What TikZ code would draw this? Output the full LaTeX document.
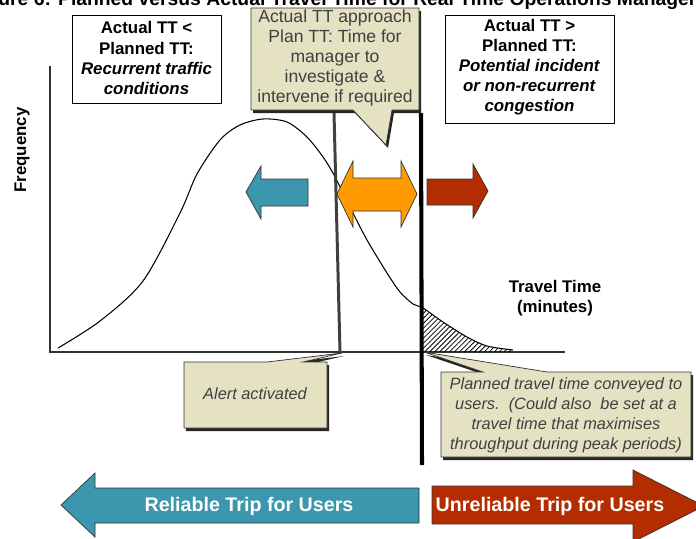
\documentclass[tikz,border=0pt]{standalone}
\usepackage{fontspec}
\setmainfont{Liberation Sans}
\usepackage{tikz}
\usetikzlibrary{shadows}
\usetikzlibrary{patterns.meta}
\usetikzlibrary{calc}

\definecolor{callbg}{HTML}{E4E2C2}
\definecolor{tealbl}{HTML}{3C96AE}
\definecolor{rustred}{HTML}{B42D00}
\definecolor{ambor}{HTML}{FF9A00}

\tikzset{
  box/.style={draw=black, fill=white, line width=0.5pt},
  callout/.style={draw=black!80, fill=callbg, line width=0.4pt,
    drop shadow={shadow xshift=0.04cm, shadow yshift=-0.06cm, opacity=1, fill=black!85}},
  boxtext/.style={align=center, inner sep=0pt, font=\fontsize{9.6}{11.4}\selectfont\bfseries},
  calltext/.style={align=center, inner sep=0pt, text=black!75, font=\fontsize{9.3}{11.4}\selectfont\itshape},
  fattip/.style={draw=black!80, line width=0.4pt},
  bigtext/.style={inner sep=0pt, text=white, font=\fontsize{11.2}{13}\selectfont\bfseries},
  axislabel/.style={align=center, inner sep=0pt, font=\fontsize{9.6}{11.4}\selectfont\bfseries},
}

\begin{document}
\begin{tikzpicture}[x=0.02cm, y=-0.02cm]

  \useasboundingbox (0,0) rectangle (696,538);
  \clip (0,0) rectangle (696,538);

  \def\curve{plot[smooth, tension=0.5] coordinates {(58,348) (100,321) (143,281) (180,213) (197,174)
     (220,140) (240,125) (263,119) (287,122) (307,137) (323,157) (334,175) (353,213) (367,240)
     (387,273) (400,292) (413,304) (423,308) (443,322) (467,337) (487,346) (513,350)}}

  %title (cut at the top edge)
  \node[anchor=base west, inner sep=0pt, font=\fontsize{11}{13}\selectfont\bfseries] (title) at (-31,5)
     {Figure 6: Planned versus Actual Travel Time for Real Time Operations Management};

  %top boxes
  \draw[box] (72,15) rectangle (221,103);
  \node[boxtext] (lowtt) at (146.5,58) {Actual TT <\\Planned TT:\\\textit{Recurrent traffic}\\\textit{conditions}};

  \draw[box] (445,15) rectangle (614,123);
  \node[boxtext] (hightt) at (529.5,67) {Actual TT >\\Planned TT:\\\textit{Potential incident}\\\textit{or non-recurrent}\\\textit{congestion}};

  %axes
  \coordinate (origin) at (50,352);
  \coordinate (ytop) at (50,66);
  \coordinate (xend) at (565,352);
  \draw[black!80, line width=0.6pt] (ytop) -- (origin) -- (xend);
  \node[axislabel, rotate=90] (freq) at (22,150) {Frequency};
  \node[axislabel] (ttime) at (555,298) {Travel Time\\(minutes)};

  %distribution and hatched tail
  \begin{scope}
    \clip (423,100) rectangle (520,352);
    \fill[pattern={Lines[angle=45, distance=2pt, line width=0.45pt]}] \curve -- (513,352) -- (58,352) -- cycle;
  \end{scope}
  \draw[line width=0.6pt] \curve;

  %middle callout
  \draw[callout] (251,8) -- (419,8) -- (419,110) -- (392,110) -- (386,145) -- (353,110) -- (251,110) -- cycle;
  \node[calltext, font=\fontsize{10}{11.4}\selectfont] (approach) at (335,58)
     {Actual TT approach\\Plan TT: Time for\\manager to\\investigate \&\\intervene if required};

  %bottom callouts
  \draw[callout] (184,362) -- (267,362) -- (342,353) -- (303,362) -- (327,362) -- (327,428) -- (184,428) -- cycle;
  \node[calltext] (alert) at (255,394) {Alert activated};

  \draw[callout] (441,372) -- (483,372) -- (424,352) -- (547,372) -- (691,372) -- (691,457) -- (441,457) -- cycle;
  \node[calltext] (conveyed) at (566,415)
     {Planned travel time conveyed to\\users.\ \ (Could also\ \ be set at a\\travel time that maximises\\throughput during peak periods)};

  %alert line and planned line
  \coordinate (alerttop) at (334,113);
  \coordinate (alertfoot) at (340,352);
  \draw[black!75, line width=1.7pt] (alerttop) -- (alertfoot);
  \coordinate (plantop) at (421,113);
  \coordinate (planfoot) at (422,465);
  \draw[black, line width=2.3pt] (plantop) -- (planfoot);

  %small arrows
  \draw[fattip, fill=tealbl] (246,192) -- (261,166) -- (261,179) -- (308,179) -- (308,206) -- (261,206) -- (261,219) -- cycle;
  \draw[fattip, fill=ambor] (337,194) -- (353,161) -- (353,178) -- (401,178) -- (401,161) -- (417,194)
     -- (401,227) -- (401,211) -- (353,211) -- (353,227) -- cycle;
  \draw[fattip, fill=rustred] (427,179) -- (473,179) -- (473,164) -- (488,191) -- (473,218) -- (473,205) -- (427,205) -- cycle;

  %big arrows
  \draw[fattip, fill=tealbl] (61,505) -- (95,473) -- (95,488) -- (419,488) -- (419,523) -- (95,523) -- (95,537) -- cycle;
  \node[bigtext] (reliable) at (249,506) {Reliable Trip for Users};
  \draw[fattip, fill=rustred] (432,486) -- (633,486) -- (633,470) -- (704,506) -- (633,542) -- (633,524) -- (432,524) -- cycle;
  \node[bigtext] (unreliable) at (550,506) {Unreliable Trip for Users};

\end{tikzpicture}
\end{document}
